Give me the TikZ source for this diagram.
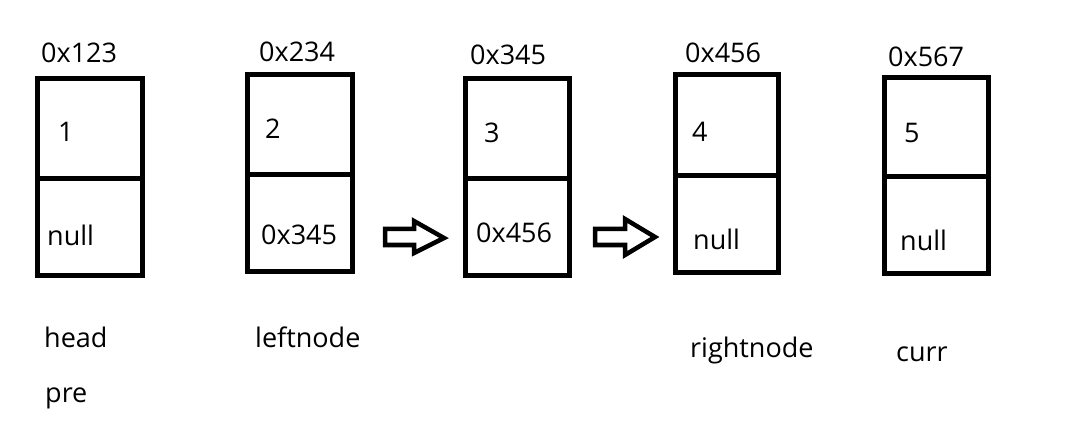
\documentclass[tikz,border=0pt]{standalone}
\usepackage{fontspec}
\setmainfont{Open Sans}
\begin{document}
\begin{tikzpicture}[x=1pt,y=-1pt,
  boxline/.style={line width=5pt, line join=miter},
  blockarrow/.style={line width=4.5pt, line join=miter},
  lbl/.style={anchor=base west, inner sep=0pt, font=\fontsize{27}{32}\selectfont}]
\useasboundingbox[fill=white] (0,0) rectangle (1072,433);
% boxes
\draw[boxline] (37.5,79) rectangle (142.5,275.5); \draw[boxline] (37.5,179) -- (142.5,179);
\draw[boxline] (247.5,75) rectangle (352.5,271.5); \draw[boxline] (247.5,175) -- (352.5,175);
\draw[boxline] (465,79) rectangle (569,275.5); \draw[boxline] (465,179) -- (569,179);
\draw[boxline] (675,75) rectangle (778,272.5); \draw[boxline] (675,176) -- (778,176);
\draw[boxline] (884,77.5) rectangle (988,273.5); \draw[boxline] (884,177) -- (988,177);
% addresses
\node[lbl] (a1) at (41,63) {0x123};
\node[lbl] (a2) at (259,62) {0x234};
\node[lbl] (a3) at (470,65) {0x345};
\node[lbl] (a4) at (685,63) {0x456};
\node[lbl] (a5) at (888,67) {0x567};
% values
\node[lbl] (v1) at (58,142) {1};
\node[lbl] (v2) at (265,139) {2};
\node[lbl] (v3) at (484,143) {3};
\node[lbl] (v4) at (692,142) {4};
\node[lbl] (v5) at (904,143) {5};
% next pointers
\node[lbl] (n1) at (47,246) {null};
\node[lbl] (n2) at (261,244) {0x345};
\node[lbl] (n3) at (476,243) {0x456};
\node[lbl] (n4) at (693,250) {null};
\node[lbl] (n5) at (900,251) {null};
% pointer names
\node[lbl] (head) at (44,347) {head};
\node[lbl] (pre) at (45,402) {pre};
\node[lbl] (left) at (255,347) {leftnode};
\node[lbl] (right) at (690,357) {rightnode};
\node[lbl] (curr) at (896,361) {curr};
% block arrows
\draw[blockarrow] (385,229) -- (414,229) -- (414,221) -- (444,238) -- (414,253) -- (414,245) -- (385,245) -- cycle;
\draw[blockarrow] (595,229) -- (625,229) -- (625,219) -- (655,237) -- (625,255) -- (625,245) -- (595,245) -- cycle;
\end{tikzpicture}
\end{document}
